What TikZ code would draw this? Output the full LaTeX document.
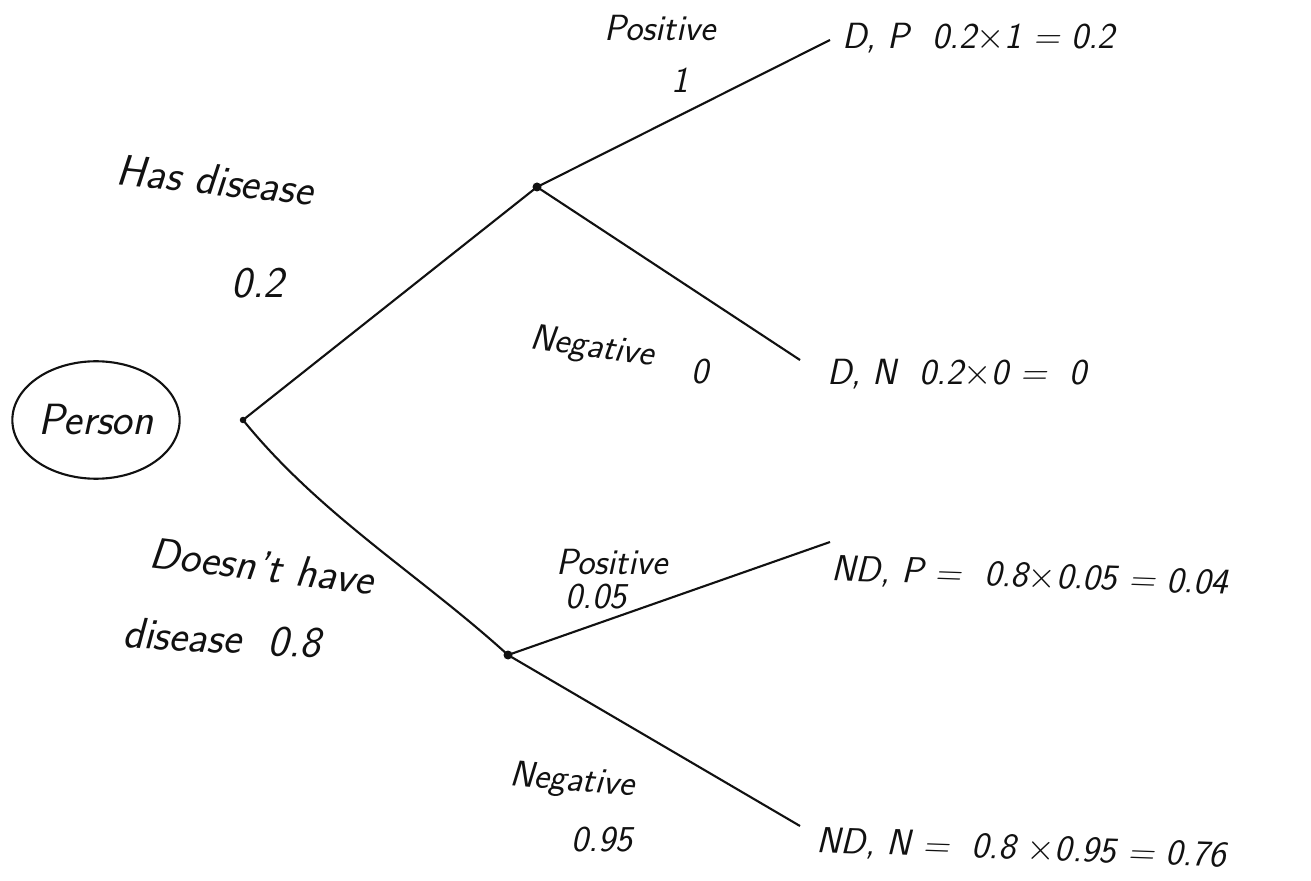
\documentclass[tikz,border=0pt]{standalone}
\usepackage{amsmath,amssymb}
\usepackage{xcolor}
\usepackage{tikz}
\usetikzlibrary{shapes.geometric,positioning}
\definecolor{inkblack}{HTML}{111111}
\tikzset{
  branch/.style   = {inkblack, line width=1.2pt},
  split dot/.style = {circle, fill=inkblack, inner sep=0pt, minimum size=1.8mm},
  hand/.style     = {font=\huge\sffamily\itshape, inkblack, inner sep=1pt},
  big hand/.style = {hand, font=\Huge\sffamily\itshape},
  leaf text/.style = {hand, anchor=west},
  start node/.style = {ellipse, draw=inkblack, line width=1.2pt, big hand,
                       minimum width=3.25cm, minimum height=2.35cm},
}
\begin{document}
\begin{tikzpicture}[x=0.02cm, y=-0.02cm]
      \useasboundingbox (0,0) rectangle (1311,881);
      % tree points
      \node[start node] (person) at (96,420) {Person};
      \node[split dot, minimum size=1.3mm] (root) at (243,420) {};
      \node[split dot] (hd) at (537,187) {};
      \node[split dot] (nd) at (508,655) {};
      \coordinate (dpend) at (830,40);
      \coordinate (dnend) at (800,360);
      \coordinate (ndpend) at (830,542);
      \coordinate (ndnend) at (800,826);
      % branches
      \draw[branch] (root.center) -- (hd.center);
      \draw[branch] (root.center) .. controls (320,515) and (420,575) .. (nd.center);
      \draw[branch] (hd.center) -- (dpend);
      \draw[branch] (hd.center) -- (dnend);
      \draw[branch] (nd.center) -- (ndpend);
      \draw[branch] (nd.center) -- (ndnend);
      % branch labels
      \node[big hand, rotate=-6] (hdlab) at (215,180) {Has disease};
      \node[big hand] (hdp) at (258,283) {0.2};
      \node[big hand, rotate=-7] (ndlab) at (262,566) {Doesn't have};
      \node[big hand, rotate=-3] (ndlab2) at (222,638) {disease\ \ 0.8};
      \node[hand] (poslab) at (660,28) {Positive};
      \node[hand] (posp) at (680,80) {1};
      \node[hand, rotate=-8] (neglab) at (592,348) {Negative};
      \node[hand] (negp) at (700,372) {0};
      \node[hand] (poslab2) at (612,562) {Positive};
      \node[hand] (posp2) at (596,597) {0.05};
      \node[hand, rotate=-5] (neglab2) at (572,782) {Negative};
      \node[hand] (negp2) at (602,840) {0.95};
      % outcomes
      \node[leaf text] (dp) at (840,38) {D, P\ \ 0.2$\times$1 = 0.2};
      \node[leaf text] (dn) at (825,374) {D, N\ \ 0.2$\times$0 = \ 0};
      \node[leaf text, rotate=-2] (ndp) at (830,570) {ND, P = \ 0.8$\times$0.05 = 0.04};
      \node[leaf text, rotate=-2] (ndn) at (815,842) {ND, N = \ 0.8 $\times$0.95 = 0.76};
    \end{tikzpicture}
\end{document}
